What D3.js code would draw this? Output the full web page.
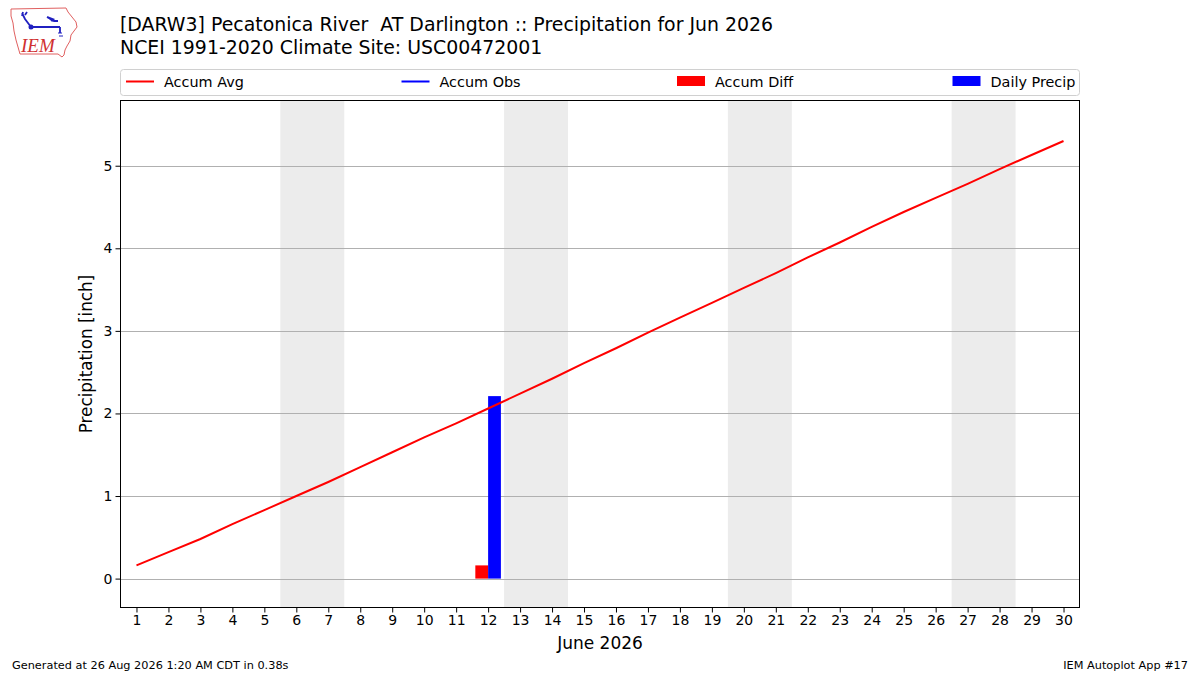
<!DOCTYPE html>
<html>
<head>
<meta charset="utf-8">
<script src="https://cdn.jsdelivr.net/npm/d3@7/dist/d3.min.js"></script>
<style>
  html, body { margin: 0; padding: 0; background: #fff; }
  svg { display: block; font-family: "DejaVu Sans", sans-serif; }
  text { white-space: pre; }
</style>
</head>
<body>
<svg id="chart" width="1200" height="675"></svg>
<script>
const TITLE_LINES = [
  "[DARW3] Pecatonica River  AT Darlington :: Precipitation for Jun 2026",
  "NCEI 1991-2020 Climate Site: USC00472001",
];
const DAYS = d3.range(1, 31);
const ACCUM_AVG = [
  0.16, 0.32, 0.48, 0.66, 0.83, 1.0, 1.17, 1.35, 1.53, 1.71,
  1.88, 2.06, 2.24, 2.42, 2.61, 2.79, 2.98, 3.16, 3.34, 3.52,
  3.7, 3.89, 4.07, 4.26, 4.44, 4.61, 4.78, 4.96, 5.13, 5.3,
];
const OBS_DAYS = [12];
const ACCUM_OBS = [2.21];
const ACCUM_DIFF = [0.16];
const DAILY_PRECIP = [2.21];
const WEEKEND_STARTS = [6, 13, 20, 27];
const Y_TICKS = [0, 1, 2, 3, 4, 5];
const LEGEND_ITEMS = [
  { label: "Accum Avg", kind: "line", color: "#ff0000" },
  { label: "Accum Obs", kind: "line", color: "#0000ff" },
  { label: "Accum Diff", kind: "patch", color: "#ff0000" },
  { label: "Daily Precip", kind: "patch", color: "#0000ff" },
];

const plot = { left: 120.5, right: 1079.5, top: 100.5, bottom: 607.5 };
const svg = d3.select("#chart");

const x = d3.scaleLinear().domain([0.5, 30.5]).range([plot.left, plot.right]);
const y = d3.scaleLinear().domain([-0.35, 5.79]).range([plot.bottom, plot.top]);

drawLogo();
drawTitle();
drawPlot();
drawLegend();
drawFooter();

function drawTitle() {
  svg
    .append("g")
    .selectAll("text")
    .data(TITLE_LINES)
    .join("text")
    .attr("x", 120)
    .attr("y", (d, i) => 31 + i * 23)
    .attr("font-size", 18.9)
    .attr("fill", "#000")
    .text((d) => d);
}

function drawPlot() {
  const g = svg.append("g");

  g.append("g")
    .selectAll("rect")
    .data(WEEKEND_STARTS)
    .join("rect")
    .attr("x", (d) => x(d - 0.5))
    .attr("y", plot.top)
    .attr("width", (d) => x(d + 1.5) - x(d - 0.5))
    .attr("height", plot.bottom - plot.top)
    .attr("fill", "#ececec");

  g.append("g")
    .selectAll("line")
    .data(Y_TICKS)
    .join("line")
    .attr("x1", plot.left)
    .attr("x2", plot.right)
    .attr("y1", (d) => Math.round(y(d)) + 0.5)
    .attr("y2", (d) => Math.round(y(d)) + 0.5)
    .attr("stroke", "#b0b0b0")
    .attr("stroke-width", 1);

  g.append("g")
    .selectAll("rect")
    .data(OBS_DAYS.map((day, i) => ({ day, value: ACCUM_DIFF[i] })))
    .join("rect")
    .attr("x", (d) => x(d.day - 0.4))
    .attr("width", (d) => x(d.day) - x(d.day - 0.4))
    .attr("y", (d) => y(Math.max(0, d.value)))
    .attr("height", (d) => Math.abs(y(d.value) - y(0)))
    .attr("fill", "#ff0000");

  g.append("g")
    .selectAll("rect")
    .data(OBS_DAYS.map((day, i) => ({ day, value: DAILY_PRECIP[i] })))
    .join("rect")
    .attr("x", (d) => x(d.day))
    .attr("width", (d) => x(d.day + 0.4) - x(d.day))
    .attr("y", (d) => y(d.value))
    .attr("height", (d) => y(0) - y(d.value))
    .attr("fill", "#0000ff");

  const line = d3.line().x((d) => x(d[0])).y((d) => y(d[1]));

  g.append("path")
    .attr("d", line(DAYS.map((day, i) => [day, ACCUM_AVG[i]])))
    .attr("fill", "none")
    .attr("stroke", "#ff0000")
    .attr("stroke-width", 2);

  g.append("path")
    .attr("d", line(OBS_DAYS.map((day, i) => [day, ACCUM_OBS[i]])))
    .attr("fill", "none")
    .attr("stroke", "#0000ff")
    .attr("stroke-width", 2);

  g.append("rect")
    .attr("x", plot.left)
    .attr("y", plot.top)
    .attr("width", plot.right - plot.left)
    .attr("height", plot.bottom - plot.top)
    .attr("fill", "none")
    .attr("stroke", "#000")
    .attr("stroke-width", 1);

  const xAxis = g.append("g")
    .attr("transform", `translate(0,${plot.bottom})`)
    .call(
      d3.axisBottom(x)
        .tickValues(DAYS)
        .tickFormat(d3.format("d"))
        .tickSize(5)
        .tickSizeOuter(0),
    );
  styleAxis(xAxis);
  xAxis.selectAll("text").attr("dy", "0.71em").attr("y", 8);

  const yAxis = g.append("g")
    .attr("transform", `translate(${plot.left},0)`)
    .call(
      d3.axisLeft(y)
        .tickValues(Y_TICKS)
        .tickFormat(d3.format("d"))
        .tickSize(5)
        .tickSizeOuter(0),
    );
  styleAxis(yAxis);
  yAxis.selectAll("text").attr("x", -8);

  svg.append("text")
    .attr("x", 600)
    .attr("y", 649)
    .attr("text-anchor", "middle")
    .attr("font-size", 17)
    .text("June 2026");

  svg.append("text")
    .attr("transform", `translate(92,${(plot.top + plot.bottom) / 2}) rotate(-90)`)
    .attr("text-anchor", "middle")
    .attr("font-size", 16.8)
    .text("Precipitation [inch]");
}

function styleAxis(axis) {
  axis.select(".domain").remove();
  axis.selectAll("line").attr("stroke", "#000");
  axis.selectAll("text")
    .attr("font-size", 14)
    .attr("font-family", "DejaVu Sans, sans-serif")
    .attr("fill", "#000");
}

function drawLegend() {
  const g = svg.append("g");

  g.append("rect")
    .attr("x", 120.5)
    .attr("y", 69.5)
    .attr("width", 959)
    .attr("height", 26)
    .attr("rx", 3)
    .attr("fill", "#fff")
    .attr("stroke", "#d0d0d0");

  const item = g.selectAll("g")
    .data(LEGEND_ITEMS)
    .join("g")
    .attr("transform", (d, i) => `translate(${126 + i * 275.5},0)`);

  item.filter((d) => d.kind === "line")
    .append("line")
    .attr("x1", 0)
    .attr("x2", 28)
    .attr("y1", 81.5)
    .attr("y2", 81.5)
    .attr("stroke", (d) => d.color)
    .attr("stroke-width", 2);

  item.filter((d) => d.kind === "patch")
    .append("rect")
    .attr("x", 0)
    .attr("y", 76)
    .attr("width", 28)
    .attr("height", 10)
    .attr("fill", (d) => d.color);

  item.append("text")
    .attr("x", 38)
    .attr("y", 86.5)
    .attr("font-size", 14.4)
    .text((d) => d.label);
}

function drawFooter() {
  svg.append("text")
    .attr("x", 12)
    .attr("y", 669)
    .attr("font-size", 11.3)
    .text("Generated at 26 Aug 2026 1:20 AM CDT in 0.38s");

  svg.append("text")
    .attr("x", 1188)
    .attr("y", 669)
    .attr("text-anchor", "end")
    .attr("font-size", 11.3)
    .text("IEM Autoplot App #17");
}

function drawLogo() {
  const g = svg.append("g");

  g.append("path")
    .attr("d", "M11,9 L66,8 L68,12 L72,17 L76,22 L77,27 L74,31 L71,35 L70,41 L67,46 L65,50 L64,55 L62,57 L58,54 L20,54 L18,47 L16,40 L14,31 L13,23 L11,16 Z")
    .attr("fill", "#fff")
    .attr("stroke", "#e06060")
    .attr("stroke-width", 1);

  g.append("path")
    .attr("d", "M31,27 L60,27 M60,27 L60,33 M22,13 L25,19 L31,27 M47,17 L54,21 L58,21 M23,12 L22,16 M27,12 L25,15")
    .attr("fill", "none")
    .attr("stroke", "#2020c0")
    .attr("stroke-width", 1.8);

  g.append("circle").attr("cx", 31).attr("cy", 27).attr("r", 2.5).attr("fill", "#2020c0");
  g.append("path").attr("d", "M47,16 L55,19 L52,22 Z").attr("fill", "#2020c0");
  g.append("path").attr("d", "M58,33 L62,33 M59,36 L63,36").attr("stroke", "#2020c0").attr("stroke-width", 1);

  g.append("text")
    .attr("x", 21)
    .attr("y", 52)
    .attr("font-family", "Liberation Serif, serif")
    .attr("font-style", "italic")
    .attr("font-size", 19)
    .attr("fill", "#d03030")
    .text("IEM");
}
</script>
</body>
</html>
